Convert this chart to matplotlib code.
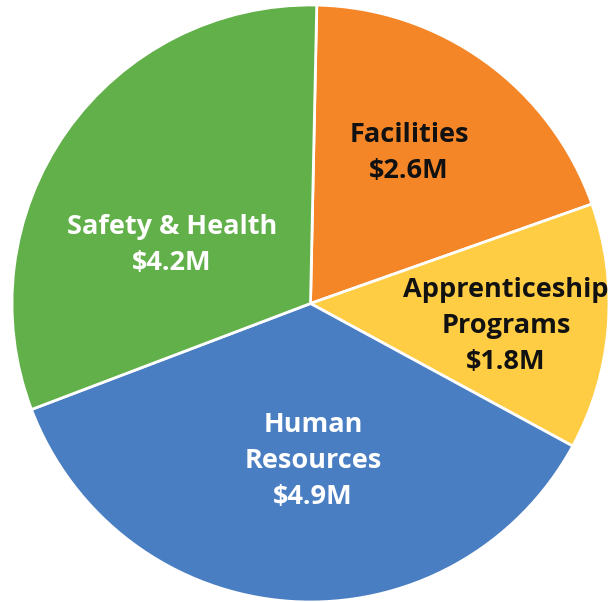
import matplotlib
matplotlib.use("Agg")
import matplotlib.pyplot as plt

categories = ["Facilities", "Apprenticeship\nPrograms", "Human\nResources", "Safety & Health"]
values = [2.6, 1.8, 4.9, 4.2]
value_labels = ["$2.6M", "$1.8M", "$4.9M", "$4.2M"]
colors = ["#F48628", "#FFCD44", "#4A7EC2", "#62B04A"]
text_colors = ["#111111", "#111111", "white", "white"]

W, H = 609, 602
cx, cy, R = 310.5, 303.5, 298.5

fig = plt.figure(figsize=(W / 100, H / 100), dpi=100)
ax = fig.add_axes([0, 0, 1, 1])
ax.pie(values, colors=colors, startangle=88.8, counterclock=False,
       radius=1.0, wedgeprops=dict(edgecolor="white", linewidth=2))
ax.set_xlim(-cx / R, (W - cx) / R)
ax.set_ylim(-(H - cy) / R, cy / R)
ax.set_aspect("auto")
ax.axis("off")

label_px = [(409, 153), (506, 326), (313, 461), (172, 245)]
for cat, vl, tc, (px, py) in zip(categories, value_labels, text_colors, label_px):
    ax.text((px - cx) / R, (cy - py) / R, f"{cat}\n{vl}", ha="center", va="center",
            color=tc, fontsize=19.5, fontweight="bold", family="Open Sans",
            linespacing=1.52)

fig.savefig("out.png", dpi=100)
